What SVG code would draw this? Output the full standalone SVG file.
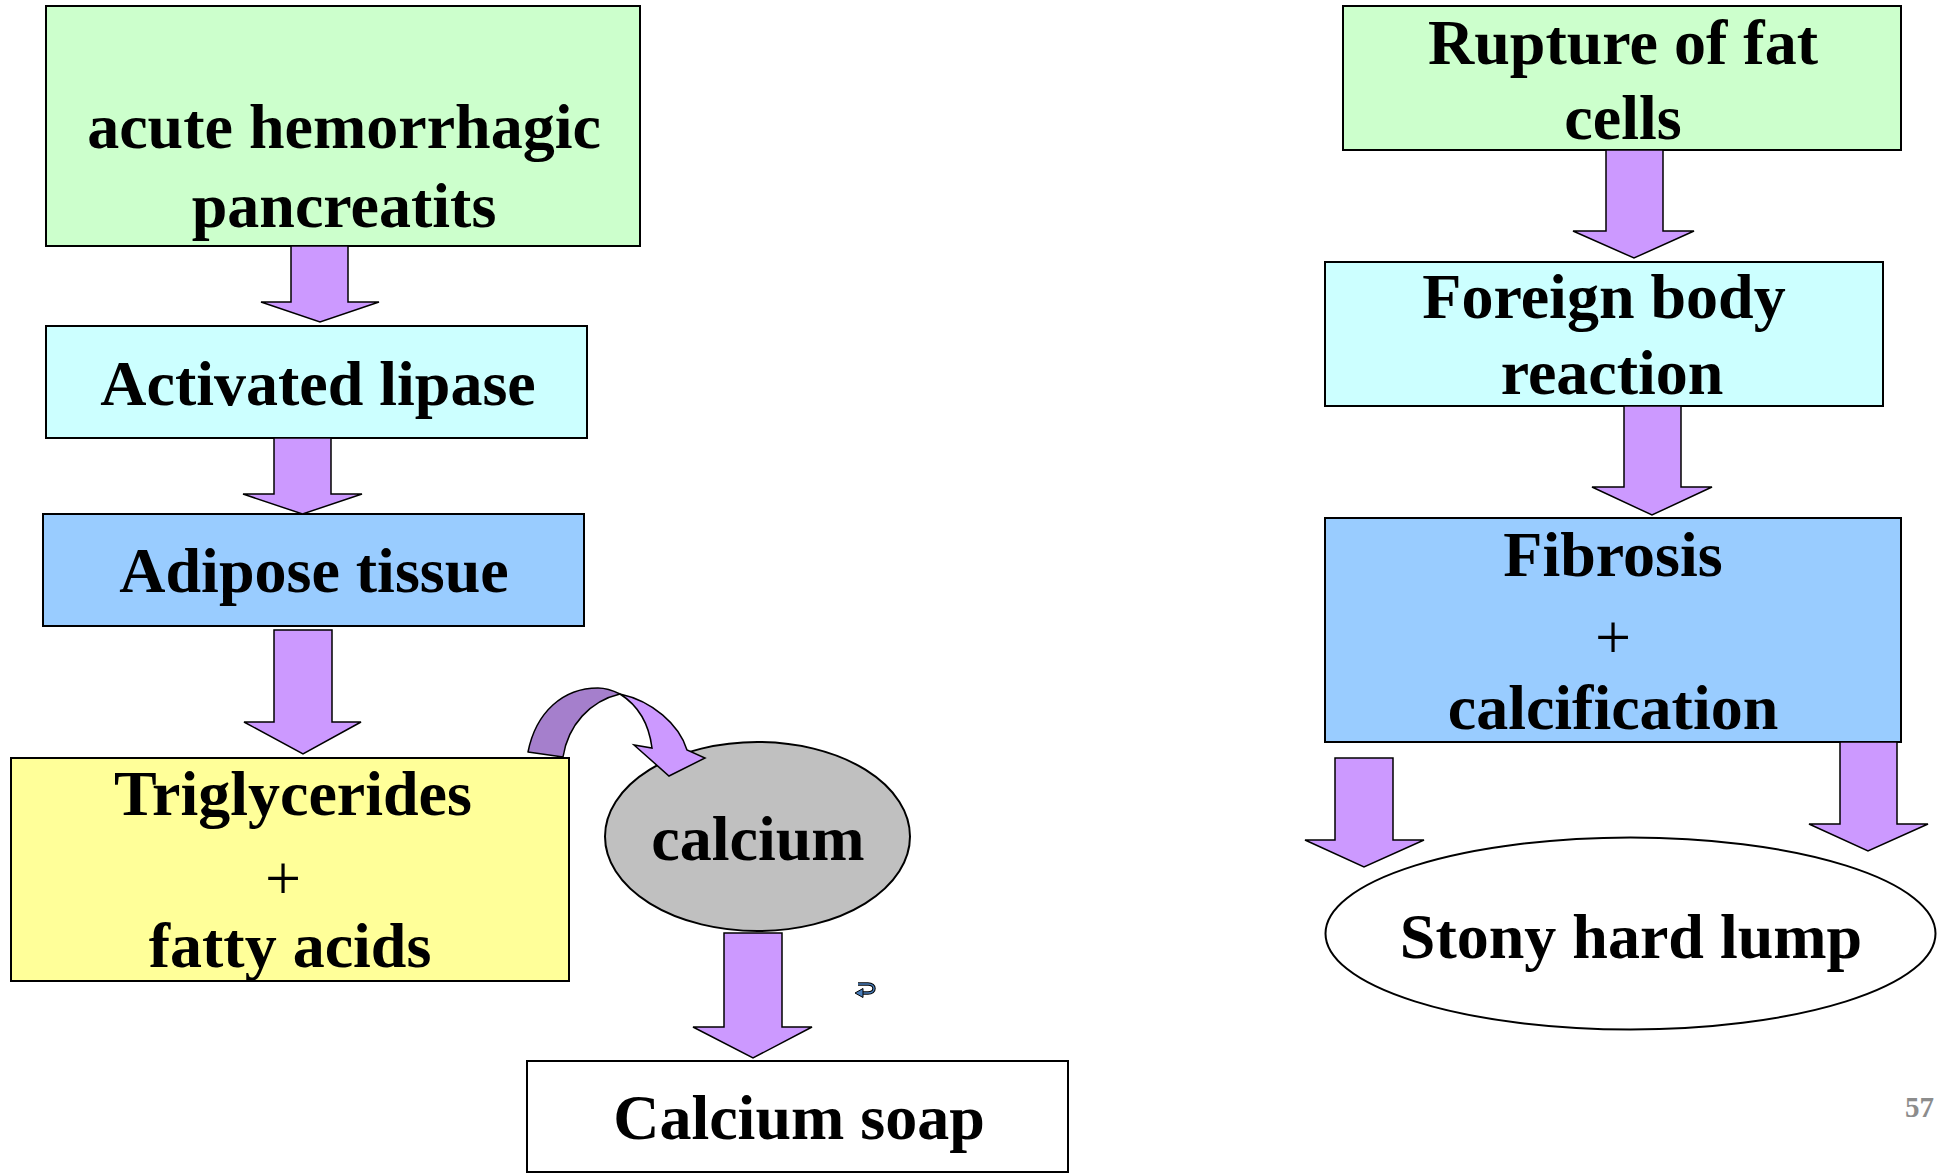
<svg xmlns="http://www.w3.org/2000/svg" width="1937" height="1174" viewBox="0 0 1937 1174">
<style>
.box{stroke:#000;stroke-width:2}
.t{font-family:"Liberation Serif","Times New Roman",serif;font-weight:bold;font-size:64px;fill:#000;text-anchor:middle}
.p{font-family:"Liberation Serif","Times New Roman",serif;font-weight:normal;font-size:64px;fill:#000;text-anchor:middle}
.arr{fill:#CC99FF;stroke:#000;stroke-width:1.5;stroke-linejoin:miter}
</style>
<rect width="1937" height="1174" fill="#fff"/>
<g id="nodes">
<g id="n-pancreatitis">
<rect class="box" x="46" y="6" width="594" height="240" fill="#CCFFCC"/>
<text class="t" x="344" y="148">acute hemorrhagic</text>
<text class="t" x="344" y="227">pancreatits</text>
</g>
<g id="n-lipase">
<rect class="box" x="46" y="326" width="541" height="112" fill="#CCFFFF"/>
<text class="t" x="318" y="405">Activated lipase</text>
</g>
<g id="n-adipose">
<rect class="box" x="43" y="514" width="541" height="112" fill="#99CCFF"/>
<text class="t" x="314" y="592">Adipose tissue</text>
</g>
<g id="n-triglycerides">
<rect class="box" x="11" y="758" width="558" height="223" fill="#FFFF99"/>
<text class="t" x="293" y="815">Triglycerides</text>
<text class="p" x="283" y="900">+</text>
<text class="t" x="290" y="967">fatty acids</text>
</g>
<g id="n-calcium">
<ellipse class="box" cx="757.5" cy="836.5" rx="152.5" ry="94.5" fill="#C0C0C0"/>
<text class="t" x="758" y="860">calcium</text>
</g>
<g id="n-soap">
<rect class="box" x="527" y="1061" width="541" height="111" fill="#FFFFFF"/>
<text class="t" x="799" y="1139">Calcium soap</text>
</g>
<g id="n-rupture">
<rect class="box" x="1343" y="6" width="558" height="144" fill="#CCFFCC"/>
<text class="t" x="1623" y="64">Rupture of fat</text>
<text class="t" x="1623" y="139">cells</text>
</g>
<g id="n-foreign">
<rect class="box" x="1325" y="262" width="558" height="144" fill="#CCFFFF"/>
<text class="t" x="1604" y="318">Foreign body</text>
<text class="t" x="1612" y="394">reaction</text>
</g>
<g id="n-fibrosis">
<rect class="box" x="1325" y="518" width="576" height="224" fill="#99CCFF"/>
<text class="t" x="1613" y="576">Fibrosis</text>
<text class="p" x="1613" y="659">+</text>
<text class="t" x="1613" y="729">calcification</text>
</g>
<g id="n-lump">
<ellipse class="box" cx="1630.5" cy="933.5" rx="305" ry="96" fill="#FFFFFF"/>
<text class="t" x="1631" y="958">Stony hard lump</text>
</g>
</g>
<g id="connectors">
<polygon class="arr" points="291,246 348,246 348,302 379,302 320,322 261,302 291,302"/>
<polygon class="arr" points="274,438 331,438 331,494 362,494 302.5,514 243,494 274,494"/>
<polygon class="arr" points="274,630 332,630 332,722 361,722 303,754 244,722 274,722"/>
<polygon class="arr" points="724,933 782,933 782,1027 812,1027 753,1058 693,1027 724,1027"/>
<polygon class="arr" points="1606,150 1663,150 1663,231 1694,231 1634,258 1573,231 1606,231"/>
<polygon class="arr" points="1624,406 1681,406 1681,487 1712,487 1652,515 1592,487 1624,487"/>
<polygon class="arr" points="1335,758 1393,758 1393,840 1424,840 1364,867 1305,840 1335,840"/>
<polygon class="arr" points="1840,742 1897,742 1897,824 1928,824 1868,851 1809,824 1840,824"/>
<g id="curved-arrow">
<path d="M528,752 C536,712 563,688 598,688 C607,688 614,691 620,694 C590,701 568,725 563,757 Z" fill="#A57FCC" stroke="#000" stroke-width="1.5" stroke-linejoin="round"/>
<path d="M620,694 C652,701 679,724 687,750 L705,758 L669,776 L634,745 L652,748 C649,724 639,706 620,694 Z" fill="#CC99FF" stroke="#000" stroke-width="1.5" stroke-linejoin="miter"/>
</g>
</g>
<g id="small-symbol">
<path d="M858,984 L868,984 C876,984 876,993 868,993 L862,993" fill="none" stroke="#000" stroke-width="3.5"/>
<path d="M858,984 L868,984 C876,984 876,993 868,993 L862,993" fill="none" stroke="#4A7EBB" stroke-width="1.4"/>
<polygon points="855,993 863,988.5 863,997.5" fill="#4A7EBB" stroke="#000" stroke-width="1"/>
</g>
<text x="1905" y="1117" font-family="Liberation Serif, Times New Roman, serif" font-weight="bold" font-size="29" fill="#8C8C8C">57</text>
</svg>
